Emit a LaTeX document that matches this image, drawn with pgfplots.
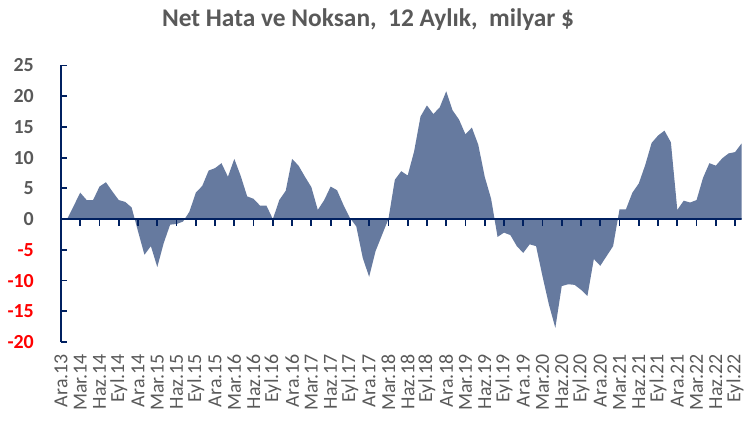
\documentclass[border=0pt]{standalone}
\usepackage{pgfplots}
\pgfplotsset{compat=1.18}
\usepackage{pgfplotstable}
\usepackage{fontspec}
\setmainfont{Carlito}
\definecolor{txtgray}{HTML}{595959}
\definecolor{navy}{HTML}{002060}
\definecolor{fillc}{HTML}{667A9F}
\definecolor{negred}{HTML}{FF0000}

\pgfplotstableread{
i v
0 0.0
1 0.1
2 2.2
3 4.3
4 3.1
5 3.1
6 5.3
7 6.0
8 4.5
9 3.1
10 2.8
11 1.9
12 -2.0
13 -5.8
14 -4.4
15 -7.8
16 -3.9
17 -0.9
18 -0.8
19 -0.4
20 1.2
21 4.3
22 5.4
23 7.9
24 8.3
25 9.1
26 6.9
27 9.8
28 7.0
29 3.7
30 3.3
31 2.2
32 2.2
33 0.0
34 3.1
35 4.6
36 9.8
37 8.7
38 6.9
39 5.2
40 1.5
41 3.1
42 5.3
43 4.7
44 2.3
45 0.2
46 -1.2
47 -6.3
48 -9.4
49 -5.2
50 -2.6
51 0.0
52 6.4
53 7.8
54 7.1
55 11.0
56 16.7
57 18.5
58 17.1
59 18.2
60 20.8
61 17.7
62 16.2
63 13.8
64 14.9
65 12.1
66 6.9
67 3.3
68 -2.9
69 -2.2
70 -2.6
71 -4.4
72 -5.5
73 -4.1
74 -4.4
75 -9.3
76 -13.9
77 -17.7
78 -10.9
79 -10.6
80 -10.7
81 -11.5
82 -12.5
83 -6.5
84 -7.6
85 -6.0
86 -4.4
87 1.6
88 1.6
89 4.3
90 5.8
91 8.8
92 12.4
93 13.6
94 14.4
95 12.5
96 1.5
97 3.0
98 2.7
99 3.1
100 6.7
101 9.1
102 8.7
103 9.9
104 10.7
105 10.9
106 12.3
}\datatable

\begin{document}
\begin{tikzpicture}
\begin{axis}[
  name=ax, at={(0,0)}, anchor=south west,
  scale only axis, width=680.5bp, height=276.5bp,
  xmin=0, xmax=106, ymin=-20, ymax=25,
  axis lines*=left,
  x axis line style={draw=none},
  y axis line style={draw=navy, line width=2bp},
  xtick={0,3,...,105},
  xticklabels={Ara.13,Mar.14,Haz.14,Eyl.14,Ara.14,Mar.15,Haz.15,Eyl.15,Ara.15,Mar.16,Haz.16,Eyl.16,Ara.16,Mar.17,Haz.17,Eyl.17,Ara.17,Mar.18,Haz.18,Eyl.18,Ara.18,Mar.19,Haz.19,Eyl.19,Ara.19,Mar.20,Haz.20,Eyl.20,Ara.20,Mar.21,Haz.21,Eyl.21,Ara.21,Mar.22,Haz.22,Eyl.22},
  xtick style={draw=none},
  xticklabel style={rotate=90, anchor=east, inner sep=0pt, text=txtgray, font=\fontsize{20}{24}\selectfont},
  xticklabel shift=12bp,
  ytick={-20,-15,...,25},
  yticklabels={{\color{negred}-20},{\color{negred}-15},{\color{negred}-10},{\color{negred}-5},0,5,10,15,20,25},
  yticklabel style={anchor=east, inner sep=0pt, text=txtgray, font=\fontsize{20}{24}\selectfont\bfseries},
  yticklabel shift=27bp,
  tick align=inside,
  ytick style={draw=navy, line width=1.8bp},
  major tick length=6bp,
]
\addplot[fill=fillc, draw=none] table[x=i, y=v] {\datatable} \closedcycle;
\draw[navy, line width=2bp] (axis cs:0,0) -- (axis cs:106,0);
\pgfplotsinvokeforeach{3,6,...,105}{
  \draw[navy, line width=1.8bp] (axis cs:#1,0) -- (axis cs:#1,-1.15);
}
\end{axis}
\node[font=\fontsize{25.5}{30}\selectfont\bfseries, text=txtgray] at (307bp,322bp) {Net Hata ve Noksan,\ \ 12 Aylık,\ \ milyar \$};
\pgfresetboundingbox
\useasboundingbox (-61bp,-79bp) rectangle (689bp,342bp);
\end{tikzpicture}
\end{document}
